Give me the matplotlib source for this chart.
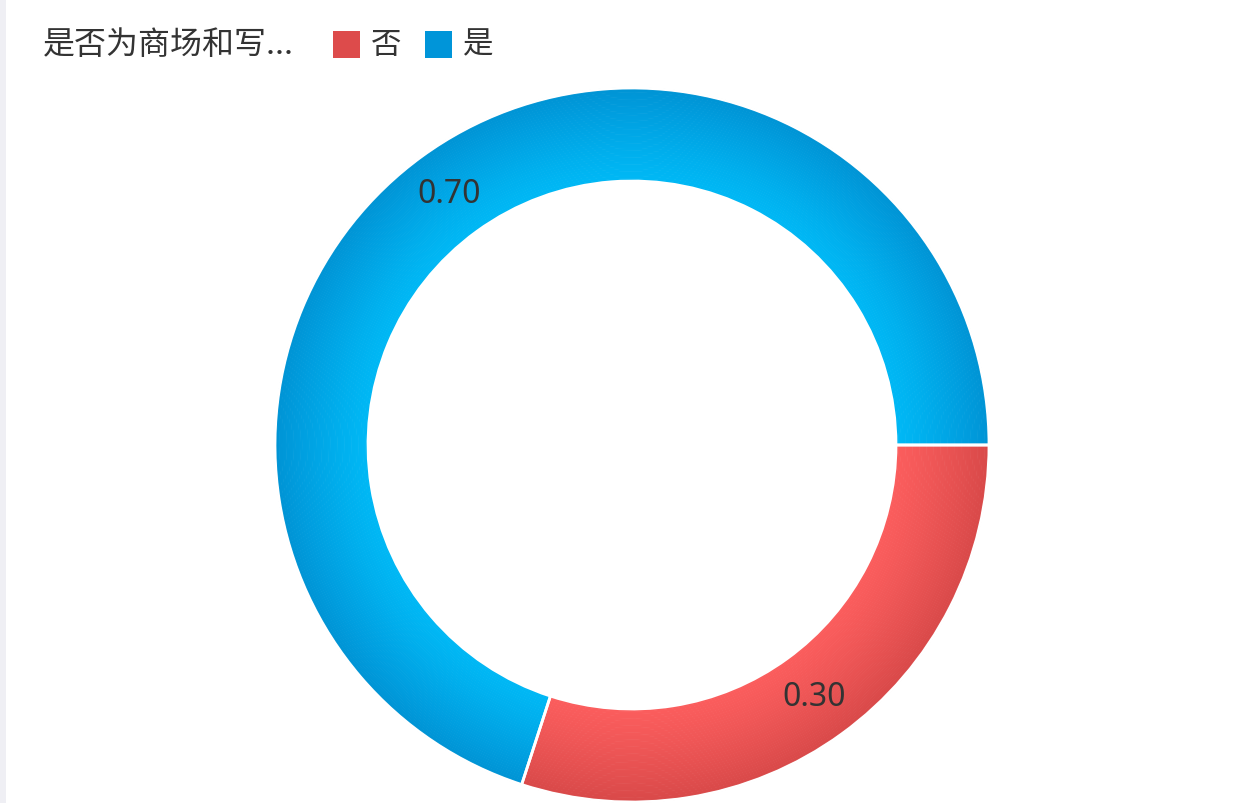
import numpy as np
import matplotlib
matplotlib.use("Agg")
import matplotlib.pyplot as plt
from matplotlib.patches import Rectangle
from matplotlib.colors import to_rgb

plt.rcParams['font.family'] = ['Noto Sans CJK SC', 'DejaVu Sans']

legend_title = "是否为商场和写..."
categories = ["否", "是"]
values = [0.30, 0.70]
inner_colors = ["#FB5D5D", "#00B8F5"]
outer_colors = ["#D84949", "#0093D5"]
legend_colors = ["#DD4B4B", "#0095D9"]

W, H = 1253, 804
fig = plt.figure(figsize=(W / 100, H / 100), dpi=100)
fig.patch.set_facecolor("white")
ax = fig.add_axes([0, 0, 1, 1])
ax.set_xlim(0, W)
ax.set_ylim(0, H)
ax.set_aspect("equal")
ax.axis("off")

# left light strip
ax.add_patch(Rectangle((0, 0), 6, H, facecolor="#EFEFF4", edgecolor="none", zorder=0))

cx, cy = 632, H - 446
r_out, r_in = 357, 264

# radial gradient rings
n = 40
edges = np.linspace(r_in, r_out, n + 1)
for i in range(n):
    t = (i + 0.5) / n
    cols = []
    for ci, co in zip(inner_colors, outer_colors):
        a = np.array(to_rgb(ci)); b = np.array(to_rgb(co))
        cols.append(tuple(a + (b - a) * t ** 1.2))
    ro = edges[i + 1] + 0.6
    ax.pie(values, colors=cols, radius=ro, center=(cx, cy), startangle=0,
           counterclock=False, normalize=True,
           wedgeprops=dict(width=ro - edges[i], edgecolor="none", linewidth=0),
           frame=True)

# separators and value labels
ax.pie(values, colors=["none", "none"], radius=r_out, center=(cx, cy), startangle=0,
       counterclock=False,
       labels=[f"{v:.2f}" for v in values], labeldistance=(r_in + r_out) / 2 / r_out,
       textprops=dict(fontsize=23, color="#333333", ha="center", va="center",
                      family=['Noto Sans', 'DejaVu Sans']),
       wedgeprops=dict(width=r_out - r_in, edgecolor="white", linewidth=2.0),
       frame=True)
ax.set_xlim(0, W)
ax.set_ylim(0, H)
ax.axis("off")

# legend
ty = H - 45
ax.text(43, ty, legend_title, fontsize=23, color="#333333", ha="left", va="center")
x = 333
for cat, col in zip(categories, legend_colors):
    ax.add_patch(Rectangle((x, ty - 13.5), 27, 27, facecolor=col, edgecolor="none"))
    ax.text(x + 38, ty, cat, fontsize=22, color="#333333", ha="left", va="center")
    x += 92

fig.savefig("out.png", dpi=100, facecolor="white")
